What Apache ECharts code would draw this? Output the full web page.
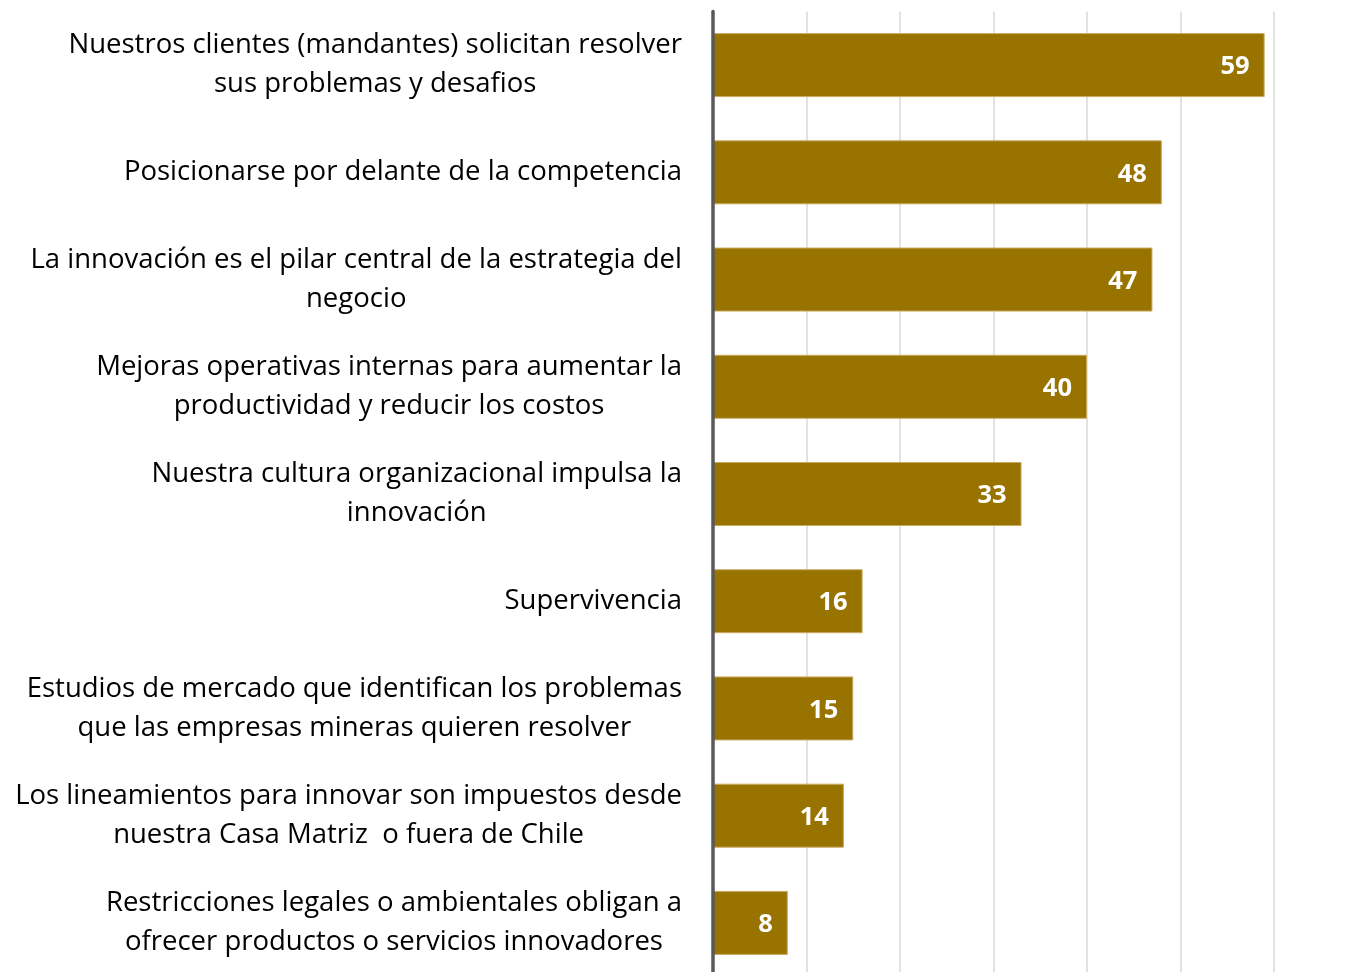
<!DOCTYPE html>
<html><head><meta charset="utf-8">
<script src="https://cdn.jsdelivr.net/npm/echarts@6/dist/echarts.min.js"></script>
<style>html,body{margin:0;padding:0;background:#fff}#c{width:1352px;height:972px}</style>
</head><body><div id="c"></div>
<script>
const categories = [
  "Nuestros clientes (mandantes) solicitan resolver\nsus problemas y desafios",
  "Posicionarse por delante de la competencia",
  "La innovación es el pilar central de la estrategia del\nnegocio",
  "Mejoras operativas internas para aumentar la\nproductividad y reducir los costos",
  "Nuestra cultura organizacional impulsa la\ninnovación",
  "Supervivencia",
  "Estudios de mercado que identifican los problemas\nque las empresas mineras quieren resolver",
  "Los lineamientos para innovar son impuestos desde\nnuestra Casa Matriz  o fuera de Chile",
  "Restricciones legales o ambientales obligan a\nofrecer productos o servicios innovadores"
];
const values = [59, 48, 47, 40, 33, 16, 15, 14, 8];

const chart = echarts.init(document.getElementById('c'));
const FONT = 'Open Sans';
chart.setOption({
  animation: false,
  grid: { left: 713, width: 561, top: 11.5, height: 965, containLabel: false, outerBoundsMode: 'none' },
  xAxis: {
    type: 'value', min: 0, max: 60, interval: 10,
    axisLabel: { show: false }, axisLine: { show: false }, axisTick: { show: false },
    splitLine: { show: true, lineStyle: { color: '#d9d9d9', width: 1.5 } }
  },
  yAxis: {
    type: 'category', inverse: true, data: categories, z: 5,
    axisLine: { show: true, lineStyle: { color: '#595959', width: 3.5 } },
    axisTick: { show: false },
    axisLabel: {
      margin: 31, align: 'right', color: '#000',
      fontFamily: FONT, fontSize: 27.5, lineHeight: 39,
      formatter: function (v) {
        return v.split('\n').map(function (l) { return '{c|' + l + '}'; }).join('\n');
      },
      rich: { c: { align: 'center', fontFamily: FONT, fontSize: 27.5, lineHeight: 39, color: '#000' } }
    }
  },
  series: [{
    type: 'bar', data: values, barCategoryGap: '40.3%',
    itemStyle: { color: '#997300', borderColor: '#c8ac62', borderWidth: 1 },
    label: {
      show: true, position: 'insideRight', distance: 15, offset: [0, 2],
      color: '#fff', fontWeight: 'bold', fontFamily: FONT, fontSize: 25.5
    }
  }]
});
</script></body></html>
